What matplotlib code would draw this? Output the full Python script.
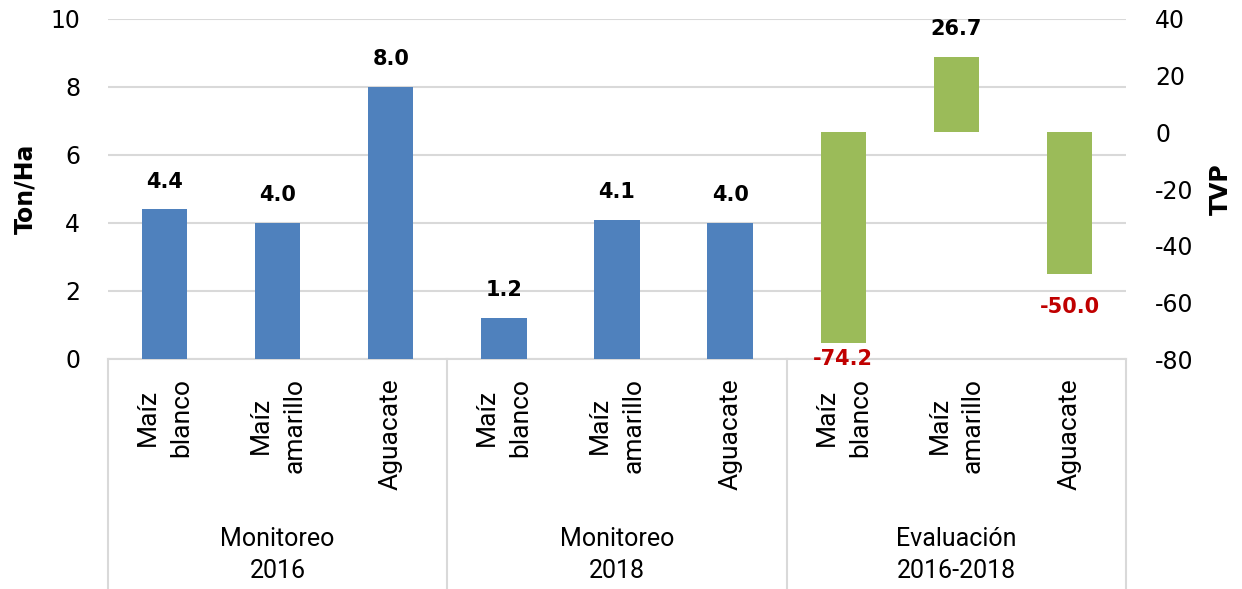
#!/usr/bin/env python3
#
# Rendimiento (Ton/Ha) por cultivo y tasa de variacion (TVP)
#
import numpy as np
import matplotlib
matplotlib.use('Agg')
import matplotlib.pyplot as plt
from matplotlib.lines import Line2D

matplotlib.rcParams['axes.unicode_minus'] = False

# Data
crops = ['Maíz\nblanco', 'Maíz\namarillo', 'Aguacate'] * 3
groups = ['Monitoreo\n2016', 'Monitoreo\n2018', 'Evaluación\n2016-2018']
ton_2016 = [4.4, 4.0, 8.0]
ton_2018 = [1.2, 4.1, 4.0]
tvp = [-74.2, 26.7, -50.0]

# Colors
blue = '#4F81BD'
green = '#9BBB59'
red = '#C00000'
grid = '#D9D9D9'

W, H = 1242, 589
fig = plt.figure(figsize=(W / 100, H / 100), dpi=100)
x0, x1, y0, y1 = 108, 1126, 19, 359
ax = fig.add_axes([x0 / W, 1 - y1 / H, (x1 - x0) / W, (y1 - y0) / H])
ax2 = ax.twinx()

num_font = 'DejaVu Sans'
cat_font = 'Roboto'

x = np.arange(len(crops))
ton = ton_2016 + ton_2018
ax.bar(x[:6], ton, width=0.4, color=blue, zorder=3)
ax2.bar(x[6:], tvp, width=0.4, color=green, zorder=3)

ax.set_xlim(-0.5, len(crops) - 0.5)
ax.set_ylim(0, 10)
ax.set_yticks(np.arange(0, 11, 2))
ax2.set_ylim(-80, 40)
ax2.set_yticks(np.arange(-80, 41, 20))
ax.set_xticks([])

for a in (ax, ax2):
    for s in a.spines.values():
        s.set_visible(False)
    a.tick_params(axis='y', length=0, labelsize=17, labelcolor='black')
    for t in a.get_yticklabels():
        t.set_fontfamily(num_font)
ax.tick_params(axis='y', pad=20)
ax2.tick_params(axis='y', pad=21)

ax.grid(axis='y', color=grid, lw=1.5, zorder=0)
ax.set_axisbelow(True)

ax.set_ylabel('Ton/Ha', fontsize=17, fontweight='bold', family=num_font)
ax.yaxis.set_label_coords(-(x0 - 37) / (x1 - x0), 0.5)
ax2.set_ylabel('TVP', fontsize=17, fontweight='bold', family=num_font)
ax2.yaxis.set_label_coords((1209 - x0) / (x1 - x0), 0.5)

# Value labels
for xi, v in zip(x[:6], ton):
    ax.annotate('%.1f' % v, (xi, v), xytext=(0, 20), textcoords='offset points',
                ha='center', va='center', fontsize=15, fontweight='bold',
                family=num_font, zorder=5)
for xi, v in zip(x[6:], tvp):
    if v >= 0:
        ax2.annotate('%.1f' % v, (xi, v), xytext=(0, 20),
                     textcoords='offset points', ha='center', va='center',
                     fontsize=15, fontweight='bold', family=num_font)
    else:
        ax2.text(xi, max(v - 11.6, -80), '%.1f' % v, ha='center', va='center',
                 fontsize=15, fontweight='bold', color=red, family=num_font,
                 clip_on=False, zorder=5)

# Category axis below the plot
tr = ax.get_xaxis_transform()
ph = y1 - y0
bottom = -(H - y1) / ph
ax.add_line(Line2D([-0.5, len(crops) - 0.5], [0, 0], transform=tr,
                   color=grid, lw=1.5, clip_on=False))
for b in [-0.5, 2.5, 5.5, 8.5]:
    ax.add_line(Line2D([b, b], [0, bottom], transform=tr, color=grid,
                       lw=1.5, clip_on=False))

for xi, c in zip(x, crops):
    ax.text(xi, -(378 - y1) / ph, c, transform=tr, rotation=90, ha='center',
            va='top', multialignment='center', fontsize=19, family=cat_font,
            linespacing=1.5)

for i, g in enumerate(groups):
    ax.text(3 * i + 1, -(555 - y1) / ph, g, transform=tr, ha='center',
            va='center', multialignment='center', fontsize=18,
            family=cat_font, linespacing=1.45)

fig.savefig('out.png', dpi=100)
